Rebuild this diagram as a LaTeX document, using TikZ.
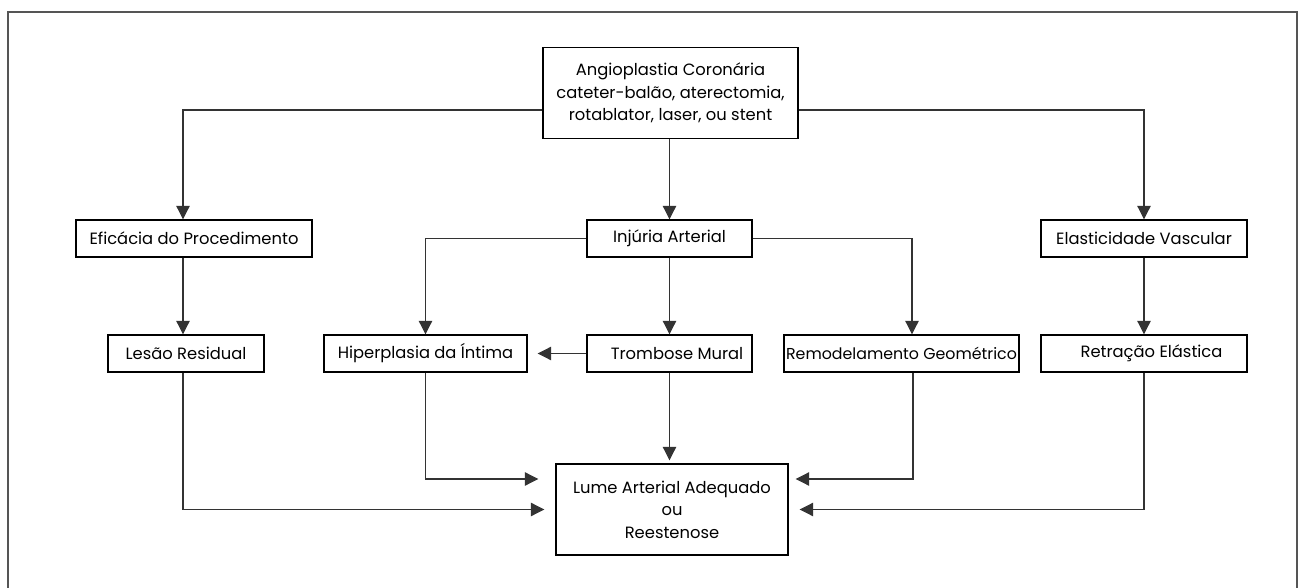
\documentclass[tikz,border=0pt]{standalone}
\usepackage{fontspec}
\setmainfont{Poppins}
\usepackage{tikz}
\usepackage{xcolor}
\usetikzlibrary{positioning, arrows.meta, calc}
\definecolor{cFrame}{HTML}{555555}
\definecolor{cLine}{HTML}{333333}
\tikzset{
  stepbox/.style  ={draw=black, line width=0.8pt, align=center,
                    minimum height=0.74cm, inner sep=2pt,
                    font=\fontsize{9.3}{12.8}\selectfont},
  bigbox/.style   ={stepbox, minimum height=1.83cm},
  flow/.style     ={-{Triangle[length=0.27cm, width=0.27cm]},
                    line width=0.6pt, draw=cLine},
}

\begin{document}
\begin{tikzpicture}

  \useasboundingbox (0,0) rectangle (26,11.74);
  \draw[cFrame, line width=1.3pt] (0.16,-0.3) -- (0.16,11.5) -- (25.94,11.5) -- (25.94,-0.3);

  % ============================================================
  % TOP: procedure
  % ============================================================
  \node[bigbox, minimum width=5.1cm] (ang) at (13.41,9.88)
    {Angioplastia Coronária\\cateter-balão, aterectomia,\\rotablator, laser, ou stent};

  % ============================================================
  % SECOND ROW: three branches
  % ============================================================
  \node[stepbox, minimum width=4.72cm] (efic)  at (3.88,6.97)  {Eficácia do Procedimento};
  \node[stepbox, minimum width=3.3cm]  (inj)   at (13.39,6.97) {Injúria Arterial};
  \node[stepbox, minimum width=4.12cm] (elast) at (22.88,6.97) {Elasticidade Vascular};

  % ============================================================
  % THIRD ROW: mechanisms
  % ============================================================
  \node[stepbox, minimum width=3.12cm] (lesao) at (3.72,4.67)  {Lesão Residual};
  \node[stepbox, minimum width=4.06cm] (hiper) at (8.51,4.67)  {Hiperplasia da Íntima};
  \node[stepbox, minimum width=3.3cm]  (tromb) at (13.39,4.67) {\hspace{0.3cm}Trombose Mural};
  \node[stepbox, minimum width=4.7cm, inner xsep=0pt,
        font=\fontsize{9}{12.8}\selectfont] (remod) at (18.03,4.67) {Remodelamento Geométrico};
  \node[stepbox, minimum width=4.12cm] (retr)  at (22.88,4.67) {\hspace{0.3cm}Retração Elástica};

  % ============================================================
  % BOTTOM: outcome
  % ============================================================
  \node[bigbox, minimum width=4.64cm, minimum height=1.82cm] (lume) at (13.44,1.55)
    {Lume Arterial Adequado\\ou\\Reestenose};

  % --- from the procedure ---
  \draw[flow] ([yshift=-0.34cm]ang.west) -| ([xshift=-0.22cm]efic.north);
  \draw[flow] ([yshift=-0.34cm]ang.east) -| (elast.north);
  \draw[flow] (ang.south -| inj.north) -- (inj.north);

  % --- second row down ---
  \draw[flow] ([xshift=-0.22cm]efic.south) -- ([xshift=-0.06cm]lesao.north);
  \draw[flow] (inj.west) -| (hiper.north);
  \draw[flow] (inj.east) -| ([xshift=0.21cm]remod.north);
  \draw[flow] (inj.south) -- (tromb.north);
  \draw[flow] (elast.south) -- (retr.north);
  \draw[flow, shorten >=0.2cm] (tromb.west) -- (hiper.east);

  % --- into the outcome ---
  \draw[flow, shorten >=0.06cm] (tromb.south) -- (lume.north -| tromb.south);
  \draw[flow, shorten >=0.34cm] (hiper.south) |- ([yshift=0.61cm]lume.west);
  \draw[flow, shorten >=0.22cm] ([xshift=-0.06cm]lesao.south) |- (lume.west);
  \draw[flow, shorten >=0.14cm] ([xshift=0.23cm]remod.south) |- ([yshift=0.61cm]lume.east);
  \draw[flow, shorten >=0.22cm] (retr.south) |- (lume.east);

\end{tikzpicture}
\end{document}
